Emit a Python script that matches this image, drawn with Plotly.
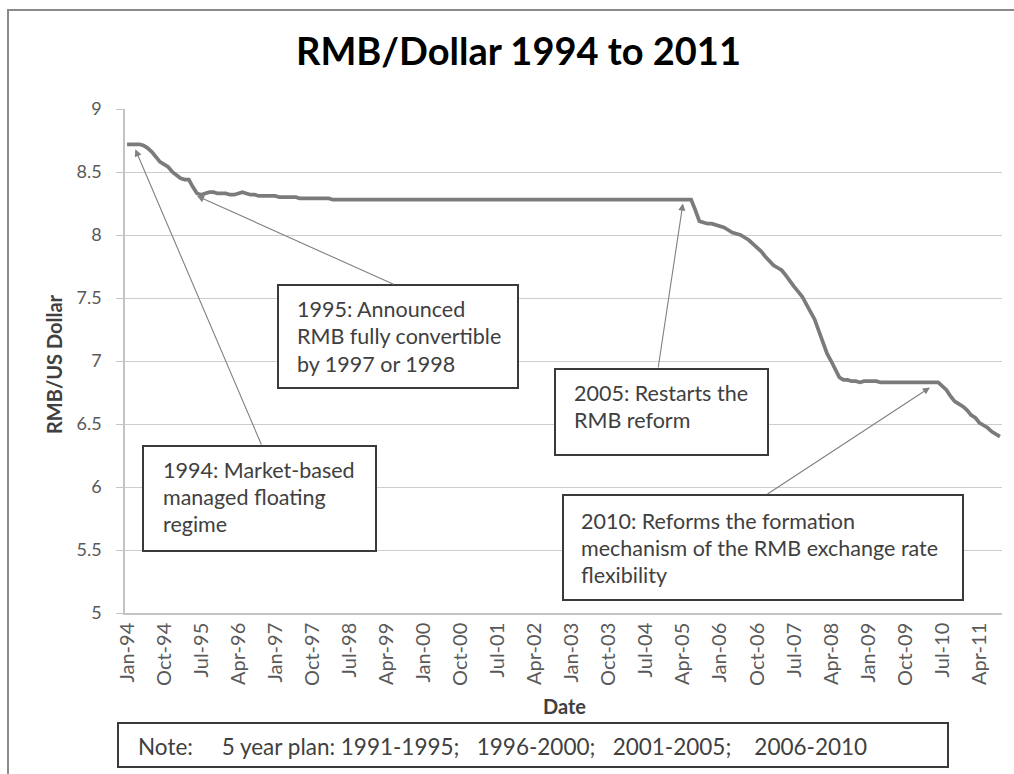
import plotly.graph_objects as go

# Monthly RMB per US dollar, January 1994 - September 2011
rate_1994 = [8.72, 8.72, 8.72, 8.72, 8.71, 8.69, 8.66, 8.62, 8.58, 8.56, 8.54, 8.50]
rate_1995 = [8.47, 8.45, 8.44, 8.44, 8.38, 8.33, 8.32, 8.33, 8.34, 8.34, 8.33, 8.33]
rate_1996 = [8.33, 8.32, 8.32, 8.33, 8.34, 8.33, 8.32, 8.32, 8.31, 8.31, 8.31, 8.31]
rate_1997 = [8.31, 8.30, 8.30, 8.30, 8.30, 8.30, 8.29, 8.29, 8.29, 8.29, 8.29, 8.29]
rate_1998 = [8.29, 8.29, 8.28, 8.28, 8.28, 8.28, 8.28, 8.28, 8.28, 8.28, 8.28, 8.28]
rate_1999 = [8.28, 8.28, 8.28, 8.28, 8.28, 8.28, 8.28, 8.28, 8.28, 8.28, 8.28, 8.28]
rate_2000 = [8.28, 8.28, 8.28, 8.28, 8.28, 8.28, 8.28, 8.28, 8.28, 8.28, 8.28, 8.28]
rate_2001 = [8.28, 8.28, 8.28, 8.28, 8.28, 8.28, 8.28, 8.28, 8.28, 8.28, 8.28, 8.28]
rate_2002 = [8.28, 8.28, 8.28, 8.28, 8.28, 8.28, 8.28, 8.28, 8.28, 8.28, 8.28, 8.28]
rate_2003 = [8.28, 8.28, 8.28, 8.28, 8.28, 8.28, 8.28, 8.28, 8.28, 8.28, 8.28, 8.28]
rate_2004 = [8.28, 8.28, 8.28, 8.28, 8.28, 8.28, 8.28, 8.28, 8.28, 8.28, 8.28, 8.28]
rate_2005 = [8.28, 8.28, 8.28, 8.28, 8.28, 8.28, 8.20, 8.11, 8.10, 8.09, 8.09, 8.08]
rate_2006 = [8.07, 8.06, 8.04, 8.02, 8.01, 8.00, 7.98, 7.96, 7.93, 7.90, 7.87, 7.83]
rate_2007 = [7.79, 7.76, 7.74, 7.72, 7.68, 7.63, 7.59, 7.55, 7.51, 7.45, 7.39, 7.33]
rate_2008 = [7.24, 7.15, 7.06, 7.00, 6.93, 6.87, 6.85, 6.85, 6.84, 6.84, 6.83, 6.84]
rate_2009 = [6.84, 6.84, 6.84, 6.83, 6.83, 6.83, 6.83, 6.83, 6.83, 6.83, 6.83, 6.83]
rate_2010 = [6.83, 6.83, 6.83, 6.83, 6.83, 6.83, 6.80, 6.77, 6.72, 6.68, 6.66, 6.64]
rate_2011 = [6.61, 6.57, 6.55, 6.51, 6.49, 6.47, 6.44, 6.42, 6.40]

years = [1994, 1995, 1996, 1997, 1998, 1999, 2000, 2001, 2002,
         2003, 2004, 2005, 2006, 2007, 2008, 2009, 2010, 2011]
yearly_rates = [rate_1994, rate_1995, rate_1996, rate_1997, rate_1998, rate_1999,
                rate_2000, rate_2001, rate_2002, rate_2003, rate_2004, rate_2005,
                rate_2006, rate_2007, rate_2008, rate_2009, rate_2010, rate_2011]
month_names = ["Jan", "Feb", "Mar", "Apr", "May", "Jun",
               "Jul", "Aug", "Sep", "Oct", "Nov", "Dec"]

tick_labels = ["Jan-94", "Oct-94", "Jul-95", "Apr-96", "Jan-97", "Oct-97",
               "Jul-98", "Apr-99", "Jan-00", "Oct-00", "Jul-01", "Apr-02",
               "Jan-03", "Oct-03", "Jul-04", "Apr-05", "Jan-06", "Oct-06",
               "Jul-07", "Apr-08", "Jan-09", "Oct-09", "Jul-10", "Apr-11"]
y_ticks = [5, 5.5, 6, 6.5, 7, 7.5, 8, 8.5, 9]

# events: (month pointed at, rate there, text lines)
event_1994 = ("Mar-94", 8.68, ["1994: Market-based", "managed floating", "regime"])
event_1995 = ("Jun-95", 8.31, ["1995: Announced", "RMB fully convertible", "by 1997 or 1998"])
event_2005 = ("Apr-05", 8.25, ["2005: Restarts the", "RMB reform"])
event_2010 = ("Apr-10", 6.79, ["2010: Reforms the formation",
                                "mechanism of the RMB exchange rate", "flexibility"])
NB = "\u00a0"
note_text = ("Note:" + NB * 5 + "5 year plan: 1991-1995;" + NB * 3 + "1996-2000;"
             + NB * 3 + "2001-2005;" + NB * 4 + "2006-2010")

months, rates = [], []
for yr, vals in zip(years, yearly_rates):
    for mn, v in zip(month_names, vals):
        months.append(f"{mn}-{yr % 100:02d}")
        rates.append(v)

# ---- page geometry (pixels) ----
W, H = 1014, 774
L, R, T, B = 125, 1002, 109, 613


def px(x):
    return (x - L) / (R - L)


def py(y):
    return (B - y) / (B - T)


FONT = "Lato"
TEXT = "#404040"
AXIS_TEXT = "#595959"

fig = go.Figure()
fig.add_trace(go.Scatter(
    x=months, y=rates, mode="lines",
    line=dict(color="#7b7b7b", width=3.7),
    hoverinfo="x+y",
))

shapes = []
annotations = []

# outer chart border
shapes.append(dict(type="rect", xref="paper", yref="paper",
                   x0=px(8), x1=px(1030), y0=py(10), y1=py(790),
                   line=dict(color="#8a8a8a", width=2), fillcolor="rgba(0,0,0,0)",
                   layer="below"))


def text_box(box, lines, text_x, line_ys, size=21.5):
    x0, y0, x1, y1 = box
    shapes.append(dict(type="rect", xref="paper", yref="paper",
                       x0=px(x0), x1=px(x1), y0=py(y0), y1=py(y1),
                       line=dict(color="#3a3a3a", width=2), fillcolor="white",
                       layer="above"))
    for line, ly in zip(lines, line_ys):
        annotations.append(dict(
            text=line, xref="paper", yref="paper", x=px(text_x), y=py(ly),
            xanchor="left", yanchor="middle", showarrow=False,
            font=dict(family=FONT, size=size, color=TEXT)))


def arrow(event, tail):
    cat, val, _ = event
    idx = months.index(cat)
    tip_x = L + (R - L) * (idx + 0.5) / len(months)
    tip_y = B - (val - 5) / 4 * (B - T)
    annotations.append(dict(
        x=cat, y=val, xref="x", yref="y", text="", showarrow=True,
        ax=tail[0] - tip_x, ay=tail[1] - tip_y,
        arrowhead=2, arrowsize=1.3, arrowwidth=1.1, arrowcolor="#808080",
        standoff=0, startstandoff=0))


arrow(event_1994, (262, 446))
arrow(event_1995, (395, 285))
arrow(event_2005, (658, 369))
arrow(event_2010, (766, 495))

text_box((278, 285, 518, 388), event_1995[2], 295, [309, 336, 364])
text_box((143, 446, 376, 551), event_1994[2], 161, [470, 497, 524])
text_box((555, 369, 768, 455), event_2005[2], 572, [393, 420])
text_box((563, 495, 963, 600), event_2010[2], 579, [521, 548, 575])
text_box((118, 723, 948, 767), [note_text], 136, [746], size=22.5)

# titles
annotations.append(dict(text="<b>RMB/Dollar 1994 to 2011</b>", xref="paper", yref="paper",
                        x=px(518), y=py(50), xanchor="center", yanchor="middle",
                        showarrow=False, font=dict(family=FONT, size=38, color="#000000")))
annotations.append(dict(text="<b>Date</b>", xref="paper", yref="paper",
                        x=px(564), y=py(706), xanchor="center", yanchor="middle",
                        showarrow=False, font=dict(family=FONT, size=20, color=TEXT)))
annotations.append(dict(text="<b>RMB/US Dollar</b>", xref="paper", yref="paper",
                        x=px(54), y=py(364), xanchor="center", yanchor="middle",
                        textangle=-90, showarrow=False,
                        font=dict(family=FONT, size=20, color=TEXT)))

fig.update_layout(
    width=W, height=H,
    margin=dict(l=L, r=W - R, t=T, b=H - B),
    paper_bgcolor="white", plot_bgcolor="white",
    showlegend=False,
    shapes=shapes, annotations=annotations,
    font=dict(family=FONT, color=AXIS_TEXT),
)
fig.update_xaxes(
    type="category", categoryorder="array", categoryarray=months,
    range=[-0.5, len(months) - 0.5],
    tickmode="array", tickvals=tick_labels, ticktext=tick_labels,
    tickangle=-90, tickfont=dict(family=FONT, size=20, color=AXIS_TEXT),
    showgrid=False, showline=True, linecolor="#c4c4c4", linewidth=1.5,
    ticks="", zeroline=False,
)
fig.update_yaxes(
    range=[5, 9], tickmode="array", tickvals=y_ticks,
    tickfont=dict(family=FONT, size=18, color=AXIS_TEXT),
    showgrid=True, gridcolor="#cdcdcd", gridwidth=1.3,
    showline=True, linecolor="#c4c4c4", linewidth=1.5,
    ticks="outside", ticklen=7, tickcolor="#c4c4c4", ticklabelstandoff=11,
    zeroline=False,
)

fig.write_html("out.html")
